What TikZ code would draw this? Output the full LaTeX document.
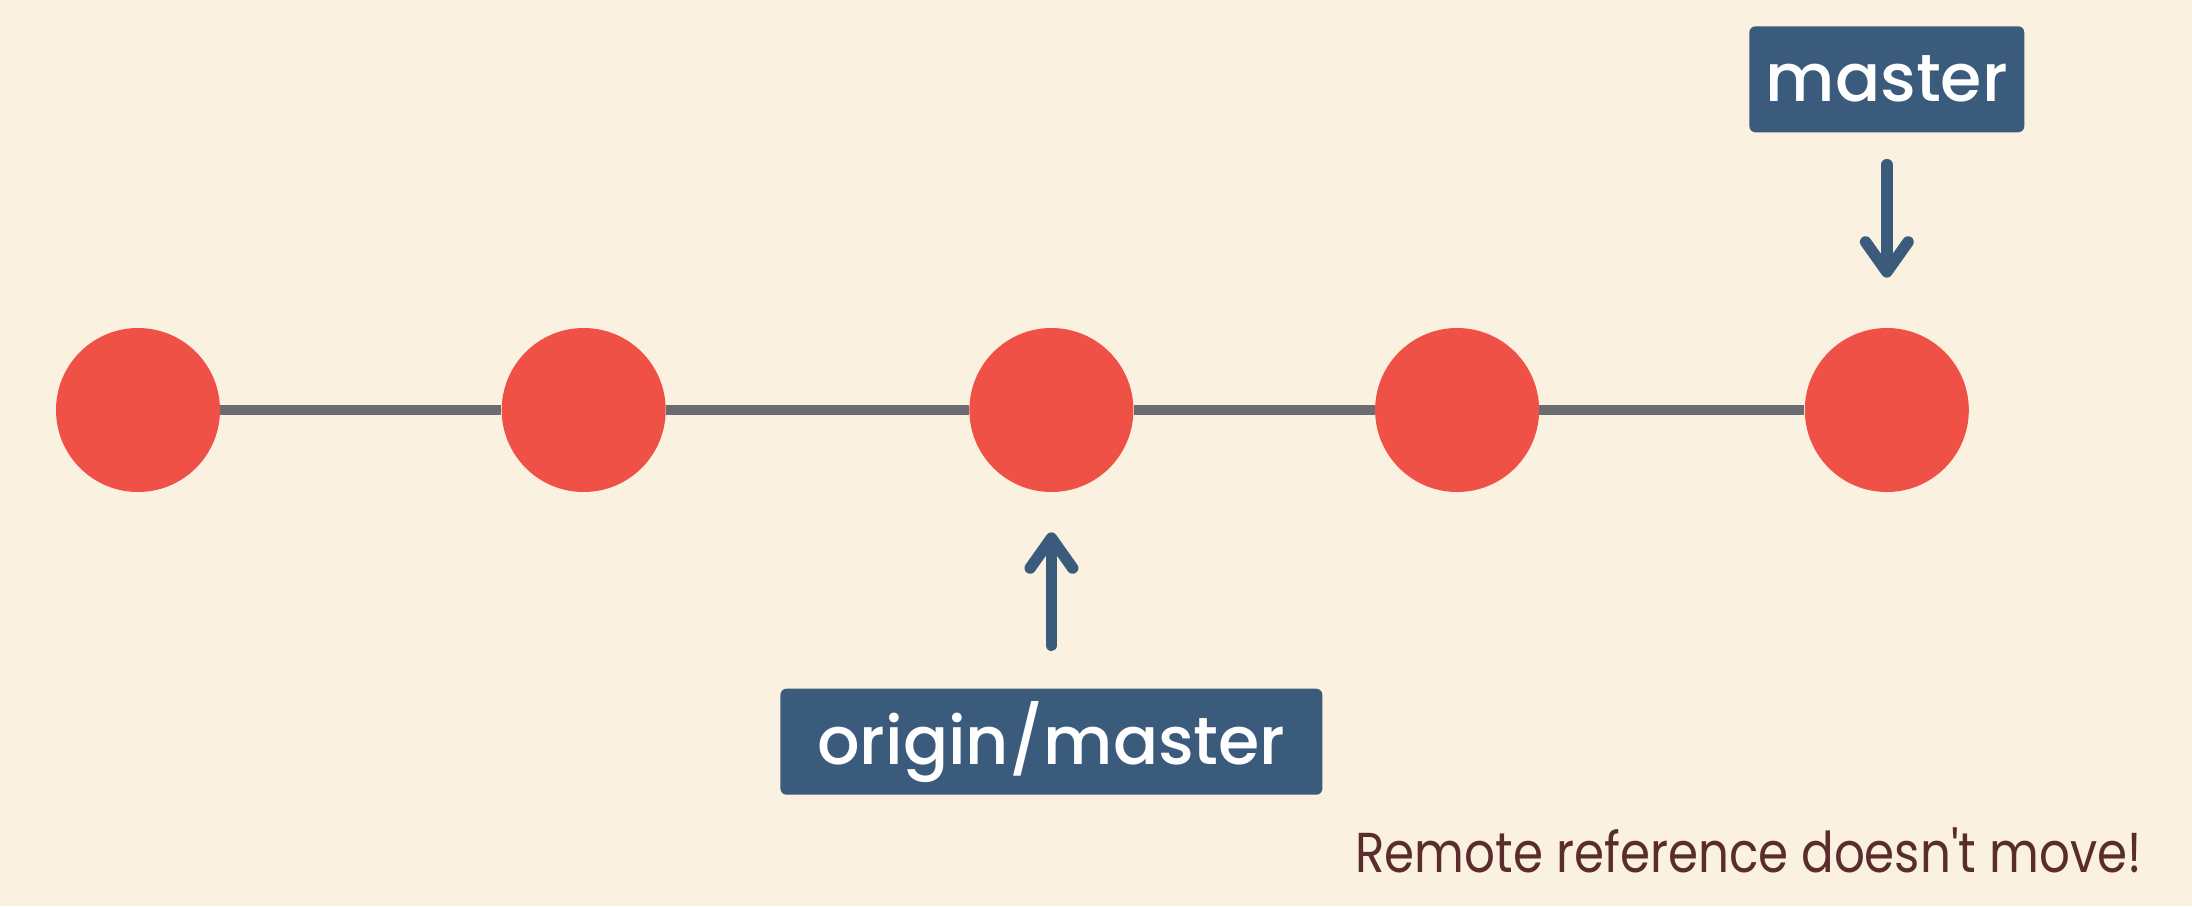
\documentclass[tikz,border=0pt]{standalone}
\usepackage{fontspec}
\setmainfont{Poppins}
\newfontfamily\reffont{Poppins}[UprightFont=* Medium]
\usepackage{xcolor}
\usepackage{tikz}
\usetikzlibrary{arrows.meta,positioning}

\definecolor{paper}{HTML}{FAF1E0}
\definecolor{commitred}{HTML}{EF5146}
\definecolor{refblue}{HTML}{3A5B7B}
\definecolor{branchgrey}{HTML}{6B6B72}
\definecolor{notebrown}{HTML}{5A2C2C}

\begin{document}
\begin{tikzpicture}[
  commit/.style={circle,fill=commitred,minimum size=3.28cm,inner sep=0pt},
  ref/.style={rectangle,fill=refblue,rounded corners=3.5pt,text=white,font=\reffont\fontsize{38}{42}\selectfont,minimum height=2.12cm,inner sep=0pt},
  pointer/.style={draw=refblue,line width=6.5pt,line cap=round,-{Straight Barb[round,length=0.6cm,width=0.85cm]}}
]

\fill[paper] (0,0) rectangle (43.84,-18.12);
\useasboundingbox (0,0) rectangle (43.84,-18.12);

\node[commit](c1) at (2.76,-8.2){};
\node[commit, right=5.62cm of c1](c2){};
\node[commit, right=6.06cm of c2](c3){};
\node[commit, right=4.82cm of c3](c4){};
\node[commit, right=5.30cm of c4](c5){};

\draw[branchgrey, line width=6pt] (c1) -- (c2) -- (c3) -- (c4) -- (c5);

\node[ref, minimum width=5.5cm, above=3.9cm of c5](master){master};
\node[ref, minimum width=10.84cm, below=3.92cm of c3](origin){origin/master};

\draw[pointer, shorten <=0.64cm, shorten >=1.0cm] (master.south) -- (c5.north);
\draw[pointer, shorten <=0.86cm, shorten >=0.8cm] (origin.north) -- (c3.south);

\node[anchor=base east, text=notebrown, font=\fontsize{32}{36}\selectfont, inner sep=0pt](note) at (42.84,-17.44){\scalebox{0.86}[1]{Remote reference doesn\textquotesingle t move!}};

\end{tikzpicture}
\end{document}
